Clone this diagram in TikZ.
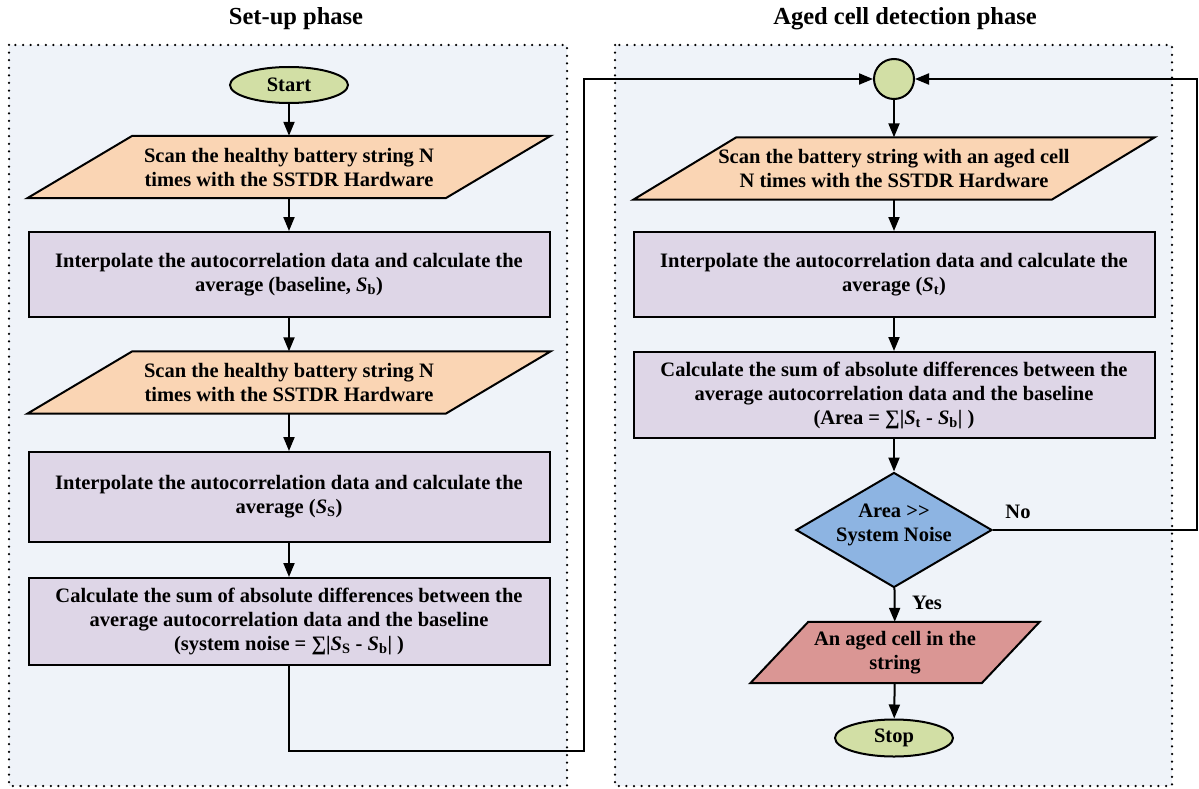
\documentclass[tikz,border=0pt]{standalone}
\usepackage{fontspec}
\setmainfont{Liberation Serif}
\usetikzlibrary{arrows.meta,shapes.geometric,backgrounds}

\definecolor{panelfill}{RGB}{239,243,249}
\definecolor{termfill}{RGB}{210,223,165}
\definecolor{iofill}{RGB}{250,213,180}
\definecolor{procfill}{RGB}{222,214,231}
\definecolor{decfill}{RGB}{141,180,226}
\definecolor{alertfill}{RGB}{218,150,148}

\newcommand\Sx[1]{\textit{S}\textsubscript{#1}}

\begin{document}
\begin{tikzpicture}[x=1pt,y=-1pt,
  font=\bfseries\fontsize{20.5}{24}\selectfont,
  title/.style={font=\bfseries\fontsize{24.5}{28}\selectfont},
  panel/.style={fill=panelfill, draw=black, line width=2.5pt, line cap=round,
    dash pattern=on 0pt off 7.6pt},
  process/.style={draw, line width=2pt, fill=procfill, minimum width=521pt,
    minimum height=86pt, align=center, inner sep=0pt},
  terminal/.style={ellipse, draw, line width=2pt, fill=termfill,
    minimum width=118pt, minimum height=36pt, inner sep=0pt},
  joint/.style={circle, draw, line width=2pt, fill=termfill,
    minimum size=40pt, inner sep=0pt},
  decision/.style={diamond, draw, line width=2pt, fill=decfill,
    minimum width=196pt, minimum height=115pt, inner sep=0pt},
  iotext/.style={align=center, inner sep=0pt, minimum height=62pt},
  ioshape/.style={draw, line width=2pt, line join=miter},
  flow/.style={line width=2pt, -{Triangle[length=14pt,width=11pt]}},
  wire/.style={line width=2pt}]

\useasboundingbox (0,0) rectangle (1199,789);

% phase titles
\node[title] (t1) at (296,19) {Set-up phase};
\node[title] (t2) at (905,19) {Aged cell detection phase};

% ---- set-up phase column ----
\node[terminal] (start) at (289,85) {Start};
\node[iotext, minimum width=418pt] (p1) at (289,167)
  {Scan the healthy battery string N\\times with the SSTDR Hardware};
\node[process, minimum height=85pt] (b1) at (289,274.5)
  {Interpolate the autocorrelation data and calculate the\\average (baseline, \Sx{b})};
\node[iotext, minimum width=418pt] (p2) at (289,382.5)
  {Scan the healthy battery string N\\times with the SSTDR Hardware};
\node[process, minimum height=90pt] (b2) at (289,497)
  {Interpolate the autocorrelation data and calculate the\\average (\Sx{S})};
\node[process, minimum height=87pt] (b3) at (289,621.5)
  {Calculate the sum of absolute differences between the\\average autocorrelation data and the baseline\\(system noise = ∑|\Sx{S} - \Sx{b}| )};

% ---- detection phase column ----
\node[joint] (j) at (894,79) {};
\node[iotext, minimum width=418pt] (r1) at (894,168.5)
  {Scan the battery string with an aged cell\\N times with the SSTDR Hardware};
\node[process, minimum height=85pt] (c1) at (894,274.5)
  {Interpolate the autocorrelation data and calculate the\\average (\Sx{t})};
\node[process, minimum height=86pt] (c2) at (894,395)
  {Calculate the sum of absolute differences between the\\average autocorrelation data and the baseline\\(Area = ∑|\Sx{t} - \Sx{b}| )};
\node[decision] (d) at (894,530) {};
\node[align=center, inner sep=0pt] (dt) at (894,525) {Area >{}>\\System Noise};
\node[iotext, minimum width=231pt, minimum height=61pt] (r2) at (895,652.5)
  {An aged cell in the\\string};
\node[terminal, minimum height=37pt] (stop) at (894,738) {Stop};

% panels and parallelogram outlines behind the text
\begin{scope}[on background layer]
  \path[panel] (9,45) rectangle (567,786);
  \path[panel] (615,45) rectangle (1172,786);
  \foreach \n/\s/\c in {p1/105/iofill, p2/105/iofill, r1/103/iofill, r2/58/alertfill}{
    \filldraw[ioshape, fill=\c]
      ([xshift=\s/2]\n.north west) -- ([xshift=\s/2]\n.north east)
      -- ([xshift=-\s/2]\n.south east) -- ([xshift=-\s/2]\n.south west) -- cycle;
  }
\end{scope}

% flow within the columns
\draw[flow] (start) -- (p1);
\draw[flow] (p1) -- (b1);
\draw[flow] (b1) -- (p2);
\draw[flow] (p2) -- (b2);
\draw[flow] (b2) -- (b3);

\draw[flow] (j) -- (r1);
\draw[flow] (r1) -- (c1);
\draw[flow] (c1) -- (c2);
\draw[flow] (c2) -- (d);
\draw[flow] (d) -- (r2);
\draw[flow] (r2) -- (stop);

% loop connectors into the junction
\coordinate (lc) at (584,751);
\coordinate (rc) at (1197,530);
\draw[flow] (b3) |- (lc) |- (j);
\draw[flow] (d) -- (rc) |- (j);

\node (no) at (1018,512) {No};
\node (yes) at (927,603) {Yes};
\end{tikzpicture}
\end{document}
